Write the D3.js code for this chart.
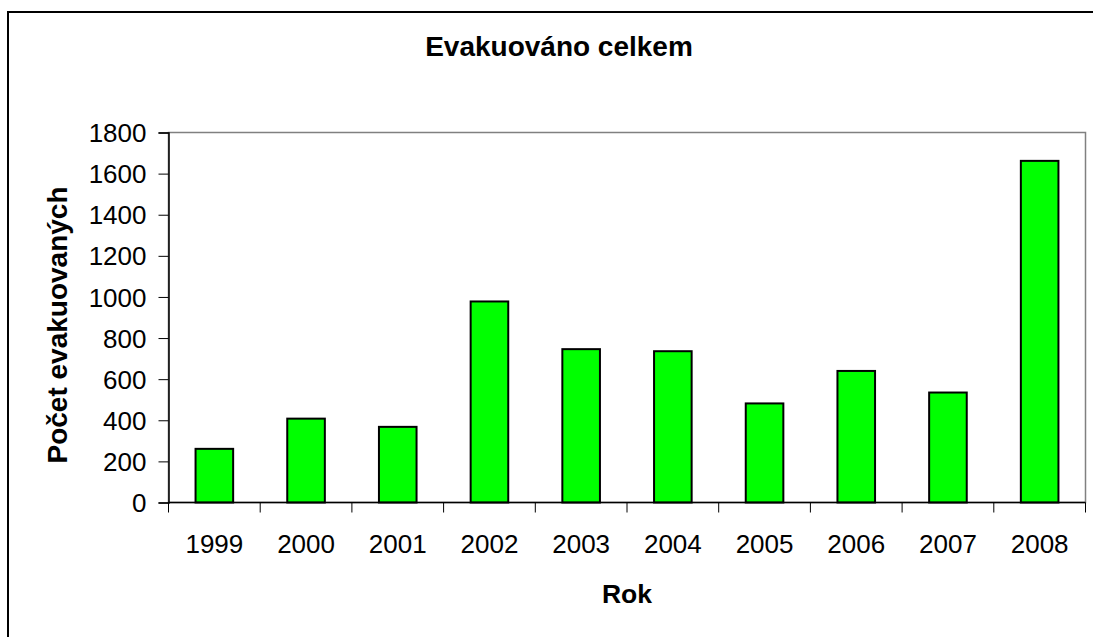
<!DOCTYPE html>
<html>
<head>
<meta charset="utf-8">
<script src="https://cdn.jsdelivr.net/npm/d3@7"></script>
<style>
  body { margin: 0; background: #fff; }
  text { font-family: "Liberation Sans", Arial, sans-serif; fill: #000; }
</style>
</head>
<body>
<div id="chart"></div>
<script>
const years = ["1999", "2000", "2001", "2002", "2003", "2004", "2005", "2006", "2007", "2008"];
const evacuated = [261, 408, 368, 978, 746, 736, 482, 640, 535, 1662];
const yTicks = [0, 200, 400, 600, 800, 1000, 1200, 1400, 1600, 1800];

const width = 1093;
const height = 637;
const plot = { left: 168.5, right: 1085.5, top: 132.5, bottom: 502.5 };

const svg = d3.select('#chart')
    .append('svg')
    .attr('width', width)
    .attr('height', height);

// outer chart frame (runs off the right and bottom edges)
svg.append('rect')
    .attr('x', 8)
    .attr('y', 12)
    .attr('width', width + 20)
    .attr('height', height + 20)
    .style('fill', '#fff')
    .style('stroke', '#000')
    .style('stroke-width', 2);

const x = d3.scaleBand()
    .domain(years)
    .range([plot.left, plot.right])
    .paddingInner(0.59)
    .paddingOuter(0.295);

const xCat = d3.scaleBand()
    .domain(years)
    .range([plot.left, plot.right]);

const y = d3.scaleLinear()
    .domain([0, 1800])
    .range([plot.bottom, plot.top]);

// plot area border
svg.append('rect')
    .attr('x', plot.left)
    .attr('y', plot.top)
    .attr('width', plot.right - plot.left)
    .attr('height', plot.bottom - plot.top)
    .style('fill', 'none')
    .style('stroke', '#808080')
    .style('stroke-width', 1.5);

// bars
svg.selectAll('.bar')
    .data(evacuated)
    .enter().append('rect')
    .attr('class', 'bar')
    .attr('x', (d, i) => x(years[i]))
    .attr('y', d => y(d))
    .attr('width', x.bandwidth())
    .attr('height', d => y(0) - y(d))
    .style('fill', '#00ff00')
    .style('stroke', '#000')
    .style('stroke-width', 2);

// y axis
const yAxis = svg.append('g')
    .attr('transform', `translate(${plot.left},0)`)
    .call(d3.axisLeft(y).tickValues(yTicks).tickFormat(d3.format('d')).tickSize(10).tickPadding(12));
yAxis.select('.domain').style('stroke', '#000').style('stroke-width', 1.5);
yAxis.selectAll('.tick line').style('stroke', '#000').style('stroke-width', 1);
yAxis.selectAll('text')
    .style('font-size', '26px')
    .attr('dy', '0.35em');

// x axis: ticks between categories
const xAxis = svg.append('g')
    .attr('transform', `translate(0,${plot.bottom})`);
xAxis.append('line')
    .attr('x1', plot.left).attr('x2', plot.right)
    .style('stroke', '#000').style('stroke-width', 1.5);
xAxis.selectAll('.xtick')
    .data(years.concat(['end']))
    .enter().append('line')
    .attr('class', 'xtick')
    .attr('x1', (d, i) => i < years.length ? xCat(d) : plot.right)
    .attr('x2', (d, i) => i < years.length ? xCat(d) : plot.right)
    .attr('y1', 0).attr('y2', 10)
    .style('stroke', '#000').style('stroke-width', 1);
xAxis.selectAll('.xlabel')
    .data(years)
    .enter().append('text')
    .attr('class', 'xlabel')
    .attr('x', d => xCat(d) + xCat.bandwidth() / 2)
    .attr('y', 50)
    .attr('text-anchor', 'middle')
    .style('font-size', '26px')
    .text(d => d);

// title and axis titles
svg.append('text')
    .attr('x', 559)
    .attr('y', 56)
    .attr('text-anchor', 'middle')
    .style('font-size', '28px')
    .style('font-weight', 'bold')
    .text('Evakuováno celkem');

svg.append('text')
    .attr('x', 627)
    .attr('y', 603)
    .attr('text-anchor', 'middle')
    .style('font-size', '26.5px')
    .style('font-weight', 'bold')
    .text('Rok');

svg.append('text')
    .attr('transform', 'translate(67,325) rotate(-90)')
    .attr('text-anchor', 'middle')
    .style('font-size', '28px')
    .style('font-weight', 'bold')
    .text('Počet evakuovaných');
</script>
</body>
</html>
